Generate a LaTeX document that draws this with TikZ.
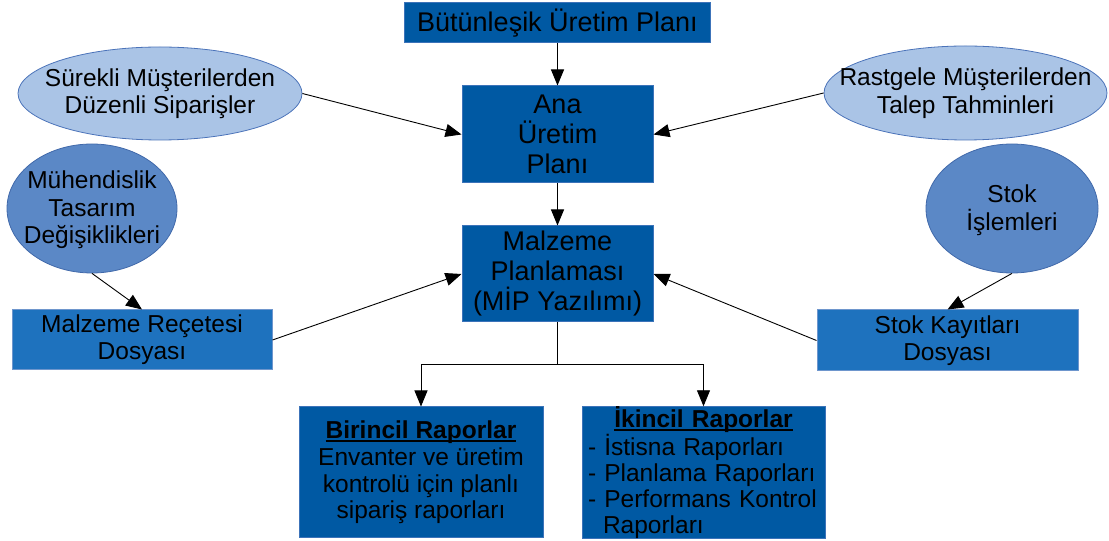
\documentclass[tikz,border=0pt]{standalone}
\usepackage{fontspec}
\setmainfont{Liberation Sans}
\usetikzlibrary{shapes.geometric,arrows.meta}
\definecolor{darkfill}{RGB}{0,89,163}
\definecolor{darkedge}{RGB}{60,115,185}
\definecolor{lightboxfill}{RGB}{30,114,190}
\definecolor{lightboxedge}{RGB}{110,150,205}
\definecolor{midell}{RGB}{91,136,198}
\definecolor{midelledge}{RGB}{65,105,170}
\definecolor{paleell}{RGB}{170,196,230}
\definecolor{paleelledge}{RGB}{75,115,185}
\newcommand\myulbold[1]{\setbox0\hbox{\textbf{#1}}\rlap{\rule[-3pt]{\wd0}{1.3pt}}\box0}
\begin{document}
\begin{tikzpicture}[x=1pt,y=1pt,
  mainbox/.style={draw=darkedge, fill=darkfill, line width=1pt, inner sep=0pt, align=center, font=\fontsize{27}{30}\selectfont},
  reportbox/.style={draw=darkedge, fill=darkfill, line width=1pt, inner sep=0pt, font=\fontsize{24.5}{26.7}\selectfont},
  filebox/.style={draw=lightboxedge, fill=lightboxfill, line width=1pt, inner sep=0pt, align=center, font=\fontsize{24.5}{27}\selectfont},
  paleellipse/.style={ellipse, draw=paleelledge, fill=paleell, line width=0.8pt, inner sep=0pt},
  midellipse/.style={ellipse, draw=midelledge, fill=midell, line width=0.8pt, inner sep=0pt},
  elltext/.style={align=center, inner sep=0pt, font=\fontsize{24.5}{27.5}\selectfont},
  conn/.style={draw=black, line width=0.9pt, -{Triangle[length=16pt,width=13pt]}},
  plainline/.style={draw=black, line width=0.9pt}
]
\useasboundingbox (0,0) rectangle (1109,541);

% main column
\node[mainbox, minimum width=306pt, minimum height=40pt] (bup) at (557.5,518) {Bütünleşik Üretim Planı};
\node[mainbox, minimum width=191pt, minimum height=97pt] (ana) at (557.5,406.5) {Ana\\Üretim\\Planı};
\node[mainbox, minimum width=191pt, minimum height=96pt] (mip) at (557.5,267) {Malzeme\\Planlaması\\(MİP Yazılımı)};

% ellipses
\node[paleellipse, minimum width=284pt, minimum height=93pt] (surekli) at (160,447.5) {};
\node[elltext] (surekli-t) at (surekli.center) {Sürekli Müşterilerden\\Düzenli Siparişler};
\node[paleellipse, minimum width=283pt, minimum height=94pt] (rastgele) at (965.5,448) {};
\node[elltext] (rastgele-t) at (rastgele.center) {Rastgele Müşterilerden\\Talep Tahminleri};
\node[midellipse, minimum width=170pt, minimum height=129pt] (muh) at (92,332.5) {};
\node[elltext] (muh-t) at (92,331) {Mühendislik\\Tasarım\\Değişiklikleri};
\node[midellipse, minimum width=172pt, minimum height=129pt] (stokis) at (1012,332.5) {};
\node[elltext] (stokis-t) at (1012,331) {Stok\\İşlemleri};

% file boxes
\node[filebox, minimum width=260pt, minimum height=60pt] (recete) at (142,201) {Malzeme Reçetesi\\Dosyası};
\node[filebox, minimum width=261pt, minimum height=61pt] (stokkay) at (947.5,200.5) {Stok Kayıtları\\Dosyası};

% reports
\node[reportbox, align=center, minimum width=244pt, minimum height=131pt] (birincil) at (421,68.5)
  {\myulbold{Birincil Raporlar}\\Envanter ve üretim\\kontrolü için planlı\\sipariş raporları};
\node[reportbox, font=\fontsize{24.5}{26}\selectfont, align=left, text width=231pt, minimum width=243pt, minimum height=131pt] (ikincil) at (703.5,68.5)
  {\makebox[231pt][c]{\myulbold{İkincil Raporlar}}\\- İstisna Raporları\\- Planlama Raporları\\- Performans Kontrol\\\hspace*{15pt}Raporları};

% connectors
\draw[conn] (bup) -- (ana);
\draw[conn] (ana) -- (mip);
\draw[conn] (surekli.east) -- (ana.west);
\draw[conn] (rastgele.west) -- (ana.east);
\draw[conn] (muh.south) -- (recete.north);
\draw[conn] (stokis.south) -- (stokkay.north);
\draw[conn] (recete.east) -- (mip.west);
\draw[conn] (stokkay.west) -- (mip.east);
\coordinate (split) at (557.5,177);
\draw[plainline] (mip.south) -- (split);
\draw[conn] (split) -| (birincil.north);
\draw[conn] (split) -| (ikincil.north);
\end{tikzpicture}
\end{document}
